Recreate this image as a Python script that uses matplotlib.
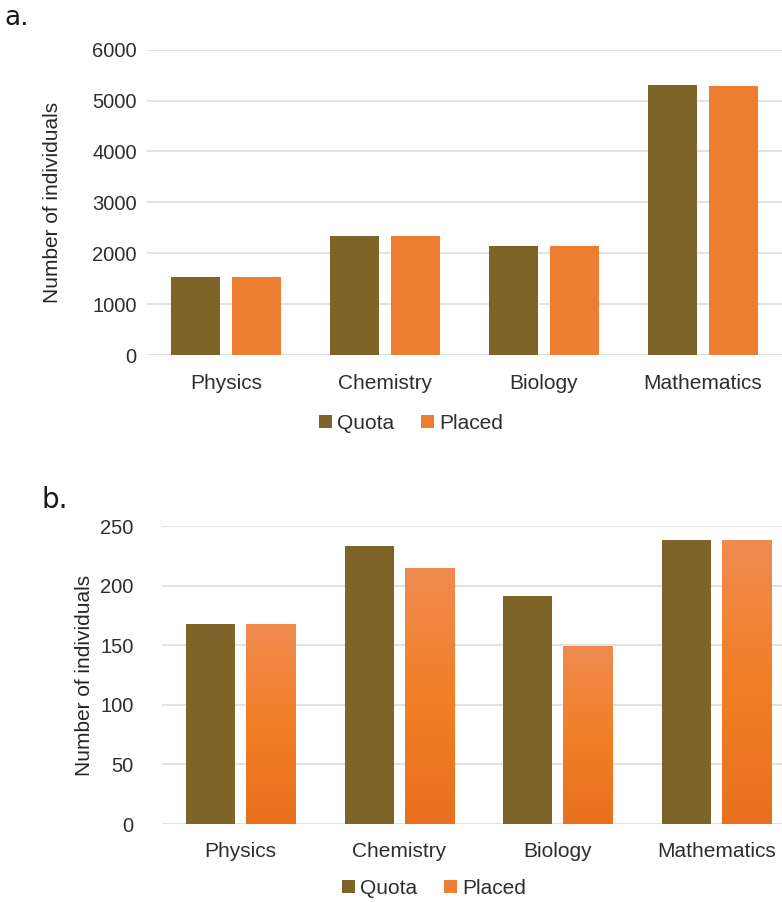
import matplotlib
matplotlib.use("Agg")
import matplotlib.pyplot as plt
import numpy as np
from matplotlib.colors import LinearSegmentedColormap

plt.rcParams['font.family'] = ['Liberation Sans', 'DejaVu Sans']

subjects = ["Physics", "Chemistry", "Biology", "Mathematics"]
quota_a = [1535, 2345, 2150, 5300]
placed_a = [1535, 2345, 2150, 5290]
quota_b = [168, 233, 191, 238]
placed_b = [168, 215, 149, 238]
ticks_a = [0, 1000, 2000, 3000, 4000, 5000, 6000]
ticks_b = [0, 50, 100, 150, 200, 250]

brown = "#7F6429"
orange = "#ED7D31"
grid_c = "#DDDDDD"
text_c = "#2e2e2e"

W, H = 782, 902
fig = plt.figure(figsize=(W / 100, H / 100), dpi=100)


def px_axes(left, top, right, bottom):
    return fig.add_axes([left / W, 1 - bottom / H, (right - left) / W, (bottom - top) / H])


def style(ax, ticks, pad):
    for s in ax.spines.values():
        s.set_visible(False)
    ax.set_yticks(ticks)
    ax.set_ylim(ticks[0], ticks[-1])
    ax.set_xlim(-0.5, 3.5)
    ax.yaxis.grid(True, color=grid_c, linewidth=1.2)
    ax.set_axisbelow(True)
    ax.tick_params(axis='y', length=0, labelsize=14.5, labelcolor=text_c, pad=pad)
    ax.tick_params(axis='x', length=0, labelsize=15, labelcolor=text_c, pad=13)
    ax.set_xticks(range(len(subjects)))
    ax.set_xticklabels(subjects)


x = np.arange(len(subjects))
bw = 0.31
off = 0.19

# panel a
ax1 = px_axes(146.5, 49.5, 782.5, 355.5)
ax1.bar(x - off, quota_a, bw, color=brown, label="Quota")
ax1.bar(x + off, placed_a, bw, color=orange, label="Placed")
style(ax1, ticks_a, 7)
ax1.legend(loc='center', bbox_to_anchor=(411 / W, 1 - 423 / H), bbox_transform=fig.transFigure,
           ncol=2, frameon=False, fontsize=15, handlelength=0.6, handleheight=0.6,
           handletextpad=0.25, columnspacing=1.3, labelcolor=text_c)
fig.text(52 / W, 1 - 202 / H, "Number of individuals", rotation=90, ha='center', va='center',
         fontsize=15, color="#262626")
fig.text(4 / W, 1 - 25 / H, "a.", fontsize=19, family='DejaVu Sans', va='baseline', color="#1a1a1a")

# panel b
ax2 = px_axes(161.5, 526, 795.5, 824)
ax2.bar(x - off, quota_b, bw, color=brown, label="Quota")
bars = ax2.bar(x + off, placed_b, bw, color=orange, label="Placed")
cmap = LinearSegmentedColormap.from_list("grad", ["#E8701E", "#F27F27", "#EF8B50"])
grad = np.linspace(0, 1, 256).reshape(-1, 1)
for b in bars:
    x0 = b.get_x()
    h = b.get_height()
    im = ax2.imshow(grad, cmap=cmap, origin='lower', aspect='auto',
                    extent=(x0, x0 + b.get_width(), 0, h), zorder=b.get_zorder() + 0.1)
    im.set_clip_path(b)
style(ax2, ticks_b, 20)
ax2.legend(loc='center', bbox_to_anchor=(434 / W, 1 - 888 / H), bbox_transform=fig.transFigure,
           ncol=2, frameon=False, fontsize=15, handlelength=0.6, handleheight=0.6,
           handletextpad=0.25, columnspacing=1.3, labelcolor=text_c)
fig.text(84 / W, 1 - 675 / H, "Number of individuals", rotation=90, ha='center', va='center',
         fontsize=15, color="#262626")
fig.text(42 / W, 1 - 508 / H, "b.", fontsize=20, family='DejaVu Sans', va='baseline', color="#1a1a1a")

fig.savefig("out.png", dpi=100)
